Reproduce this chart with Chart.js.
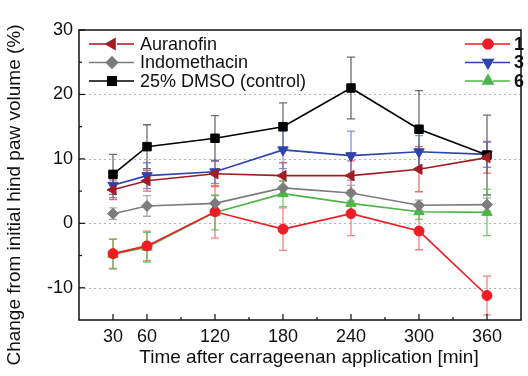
<!DOCTYPE html>
<html>
<head>
<meta charset="utf-8">
<script src="https://cdn.jsdelivr.net/npm/chart.js@4"></script>
<style>
  html, body { margin: 0; padding: 0; background: #fff; }
  #wrap { width: 528px; height: 376px; }
</style>
</head>
<body>
<div id="wrap"><canvas id="pawChart" width="528" height="376"></canvas></div>
<script>
// time points (min) and tick labels
var times = [30, 60, 120, 180, 240, 300, 360];
var xTickValues = [30, 60, 120, 180, 240, 300, 360];
var yTickValues = [-10, 0, 10, 20, 30];

// series values (% change) with error bars
var auranofin = [5.2, 6.6, 7.7, 7.4, 7.4, 8.4, 10.2];
var auranofinErr = [1.5, 1.6, 2.0, 2.0, 2.3, 3.5, 2.4];
var indomethacin = [1.5, 2.7, 3.1, 5.5, 4.7, 2.8, 2.9];
var indomethacinErr = [0.9, 1.6, 1.2, 1.0, 1.2, 0.8, 1.0];
var dmso = [7.6, 11.9, 13.2, 15.0, 21.0, 14.6, 10.6];
var dmsoErr = [3.1, 3.4, 3.5, 3.7, 4.8, 6.0, 6.2];
var cmpd1 = [-4.7, -3.5, 1.8, -0.9, 1.5, -1.2, -11.2];
var cmpd1Err = [2.3, 2.3, 4.1, 3.3, 3.4, 2.9, 3.0];
var cmpd3 = [5.9, 7.4, 8.0, 11.4, 10.5, 11.1, 10.7];
var cmpd3Err = [1.9, 2.0, 1.8, 2.9, 3.8, 2.5, 2.0];
var cmpd6 = [-4.8, -3.7, 1.7, 4.6, 3.1, 1.8, 1.7];
var cmpd6Err = [2.3, 2.3, 2.7, 2.0, 1.5, 1.2, 3.6];

var FONT = '"Liberation Sans", Arial, sans-serif';

function pts(vals) {
  return vals.map(function (v, i) { return { x: times[i], y: v }; });
}

function series(label, vals, errs, color, errColor, style, rot, radius, bold) {
  return {
    label: label,
    data: pts(vals),
    errors: errs,
    errColor: errColor,
    boldLabel: !!bold,
    borderColor: color,
    backgroundColor: color,
    borderWidth: 1.6,
    pointStyle: style,
    rotation: rot,
    pointRadius: radius,
    pointBorderWidth: 1,
    tension: 0
  };
}

var datasets = [
  series('Auranofin', auranofin, auranofinErr, '#a11d22', 'rgba(220,60,60,0.75)', 'triangle', -90, 6),
  series('Indomethacin', indomethacin, indomethacinErr, '#7c7c7c', 'rgba(150,150,150,0.8)', 'rectRot', 0, 5.5),
  series('25% DMSO (control)', dmso, dmsoErr, '#000000', 'rgba(60,60,60,0.75)', 'rect', 0, 6),
  series('1', cmpd1, cmpd1Err, '#ee1d25', 'rgba(240,90,90,0.75)', 'circle', 0, 5, true),
  series('3', cmpd3, cmpd3Err, '#2e44aa', 'rgba(90,110,210,0.75)', 'triangle', 180, 6, true),
  series('6', cmpd6, cmpd6Err, '#4db548', 'rgba(80,190,80,0.8)', 'triangle', 0, 6, true)
];

var decorPlugin = {
  id: 'decor',
  beforeDatasetsDraw: function (chart) {
    var ctx = chart.ctx, a = chart.chartArea;
    var xs = chart.scales.x, ys = chart.scales.y;
    ctx.save();
    // dotted grid lines
    ctx.strokeStyle = '#b4b4b4';
    ctx.lineWidth = 1;
    ctx.setLineDash([2, 3]);
    [-10, 0, 10, 20].forEach(function (v) {
      var y = Math.round(ys.getPixelForValue(v)) + 0.5;
      ctx.beginPath(); ctx.moveTo(a.left, y); ctx.lineTo(a.right, y); ctx.stroke();
    });
    ctx.setLineDash([]);
    // error bars
    chart.data.datasets.forEach(function (ds) {
      ctx.strokeStyle = ds.errColor;
      ctx.lineWidth = 1.3;
      ds.data.forEach(function (p, i) {
        var x = xs.getPixelForValue(p.x);
        var yt = ys.getPixelForValue(p.y + ds.errors[i]);
        var yb = ys.getPixelForValue(p.y - ds.errors[i]);
        ctx.beginPath();
        ctx.moveTo(x, yt); ctx.lineTo(x, yb);
        ctx.moveTo(x - 4, yt); ctx.lineTo(x + 4, yt);
        ctx.moveTo(x - 4, yb); ctx.lineTo(x + 4, yb);
        ctx.stroke();
      });
    });
    ctx.restore();
  },
  afterDraw: function (chart) {
    var ctx = chart.ctx, a = chart.chartArea;
    var xs = chart.scales.x, ys = chart.scales.y;
    ctx.save();
    // axis frame
    ctx.strokeStyle = '#111';
    ctx.lineWidth = 1.5;
    ctx.strokeRect(a.left, a.top, a.right - a.left, a.bottom - a.top);
    // inward ticks
    ctx.lineWidth = 1.2;
    xTickValues.forEach(function (v) {
      var x = xs.getPixelForValue(v);
      ctx.beginPath(); ctx.moveTo(x, a.bottom); ctx.lineTo(x, a.bottom - 6); ctx.stroke();
    });
    [90, 150, 210, 270, 330].forEach(function (v) {
      var x = xs.getPixelForValue(v);
      ctx.beginPath(); ctx.moveTo(x, a.bottom); ctx.lineTo(x, a.bottom - 3); ctx.stroke();
    });
    yTickValues.forEach(function (v) {
      var y = ys.getPixelForValue(v);
      ctx.beginPath(); ctx.moveTo(a.left, y); ctx.lineTo(a.left + 6, y); ctx.stroke();
    });
    [-5, 5, 15, 25].forEach(function (v) {
      var y = ys.getPixelForValue(v);
      ctx.beginPath(); ctx.moveTo(a.left, y); ctx.lineTo(a.left + 3, y); ctx.stroke();
    });

    // legends
    ctx.textBaseline = 'middle';
    ctx.textAlign = 'left';
    chart.data.datasets.forEach(function (ds, i) {
      var right = i >= 3;
      var row = i % 3;
      var y = 44 + row * 18.5;
      var x0 = right ? 465 : 89;
      var mx = x0 + 23;
      ctx.strokeStyle = ds.borderColor;
      ctx.fillStyle = ds.borderColor;
      ctx.lineWidth = 1.6;
      ctx.beginPath();
      ctx.moveTo(x0, y); ctx.lineTo(mx - 5, y);
      ctx.moveTo(mx + 5, y); ctx.lineTo(x0 + 45, y);
      ctx.stroke();
      Chart.helpers.drawPoint(ctx, {
        pointStyle: ds.pointStyle, rotation: ds.rotation,
        radius: ds.pointRadius, borderWidth: 1
      }, mx, y);
      ctx.fillStyle = '#111';
      ctx.font = (ds.boldLabel ? 'bold ' : '') + '18px ' + FONT;
      ctx.fillText(ds.label, x0 + (right ? 49 : 51), y + 1);
    });

    // axis titles
    ctx.fillStyle = '#111';
    ctx.font = '19px ' + FONT;
    ctx.textAlign = 'center';
    ctx.fillText('Time after carrageenan application [min]', 309, 358);
    ctx.translate(15, 195);
    ctx.rotate(-Math.PI / 2);
    ctx.fillText('Change from initial hind paw volume (%)', 0, 0);
    ctx.restore();
  }
};

var ctx = document.getElementById('pawChart').getContext('2d');
var pawChart = new Chart(ctx, {
  type: 'line',
  data: { datasets: datasets },
  plugins: [decorPlugin],
  options: {
    responsive: false,
    animation: false,
    layout: { padding: { top: 30, right: 1, left: 0, bottom: 0 } },
    plugins: {
      legend: { display: false },
      tooltip: { enabled: false }
    },
    scales: {
      x: {
        type: 'linear',
        min: 0,
        max: 390,
        afterBuildTicks: function (scale) {
          scale.ticks = xTickValues.map(function (v) { return { value: v }; });
        },
        afterFit: function (scale) { scale.height = 56; },
        grid: { display: false, drawTicks: false, tickLength: 0 },
        border: { display: false },
        ticks: {
          padding: 6,
          color: '#111',
          font: { family: FONT, size: 18 },
          maxRotation: 0,
          autoSkip: false
        }
      },
      y: {
        min: -15,
        max: 30,
        afterBuildTicks: function (scale) {
          scale.ticks = yTickValues.map(function (v) { return { value: v }; });
        },
        afterFit: function (scale) { scale.width = 79; },
        grid: { display: false, drawTicks: false, tickLength: 0 },
        border: { display: false },
        ticks: {
          padding: 6,
          color: '#111',
          font: { family: FONT, size: 18 }
        }
      }
    }
  }
});
</script>
</body>
</html>
